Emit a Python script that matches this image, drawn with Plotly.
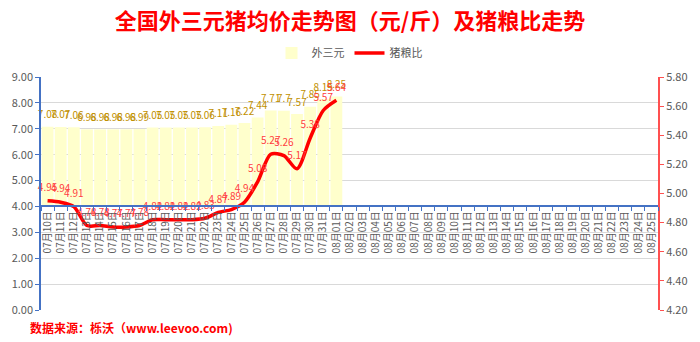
import plotly.graph_objects as go

# Categories: daily dates from 07-10 to 08-25
dates = [f"07月{d:02d}日" for d in range(10, 32)] + [f"08月{d:02d}日" for d in range(1, 26)]

# 外三元 average price (元/斤), available through 08-01
price = [7.08, 7.07, 7.06, 6.98, 6.98, 6.98, 6.98, 6.99, 7.05, 7.05, 7.05, 7.05,
         7.06, 7.11, 7.16, 7.22, 7.44, 7.71, 7.70, 7.57, 7.85, 8.15, 8.25]
price_labels = ["7.08", "7.07", "7.06", "6.98", "6.98", "6.98", "6.98", "6.99", "7.05", "7.05",
                "7.05", "7.05", "7.06", "7.11", "7.16", "7.22", "7.44", "7.71", "7.7", "7.57",
                "7.85", "8.15", "8.25"]

# 猪粮比 (hog-to-grain ratio)
ratio = [4.95, 4.94, 4.91, 4.78, 4.78, 4.77, 4.77, 4.78, 4.82, 4.82, 4.82, 4.82,
         4.83, 4.87, 4.89, 4.94, 5.08, 5.27, 5.26, 5.17, 5.38, 5.57, 5.64]

BAR_BASE = 4.0  # category axis crosses the price axis at 4.00

FONT = "Noto Sans CJK SC, Noto Sans, sans-serif"
GRAY = "#595959"
BLUE = "#4472C4"
CLEAR = "rgba(0,0,0,0)"

fig = go.Figure()

fig.add_trace(go.Bar(
    name="外三元",
    x=dates[:len(price)],
    y=[p - BAR_BASE for p in price],
    base=BAR_BASE,
    marker=dict(color="#FFFFCC", line=dict(width=0)),
    yaxis="y",
    hoverinfo="skip",
))

# price labels sitting a little above each bar top
fig.add_trace(go.Scatter(
    x=dates[:len(price)],
    y=price,
    mode="markers+text",
    marker=dict(size=8, color=CLEAR),
    text=price_labels,
    textposition="top center",
    textfont=dict(family=FONT, size=10, color="#BF9000"),
    cliponaxis=False,
    showlegend=False,
    hoverinfo="skip",
    yaxis="y",
))

fig.add_trace(go.Scatter(
    name="猪粮比",
    x=dates[:len(ratio)],
    y=ratio,
    mode="lines+markers+text",
    line=dict(color="#FF0000", width=3.5, shape="spline", smoothing=0.8),
    marker=dict(size=10, color=CLEAR),
    text=[f"{r:.2f}" for r in ratio],
    textposition="top center",
    textfont=dict(family=FONT, size=10, color="#FF4040"),
    cliponaxis=False,
    yaxis="y2",
))

fig.update_layout(
    width=700, height=342,
    margin=dict(l=37, r=37, t=77, b=32),
    paper_bgcolor="white", plot_bgcolor="white",
    font=dict(family=FONT, color=GRAY, size=11),
    bargap=0.1,
    title=dict(
        text="<b>全国外三元猪均价走势图（元/斤）及猪粮比走势</b>",
        font=dict(family=FONT, size=22, color="#FF0000"),
        x=0.5, xanchor="center", y=1 - 21 / 342, yanchor="middle", yref="container",
    ),
    legend=dict(
        orientation="h", x=0.5, xanchor="center", y=1.103, yanchor="middle",
        font=dict(family=FONT, size=11, color=GRAY),
        itemwidth=30, tracegroupgap=0, bgcolor=CLEAR,
    ),
    showlegend=True,
    xaxis=dict(
        type="category", categoryorder="array", categoryarray=dates,
        range=[-0.5, len(dates) - 0.5],
        anchor="free", position=BAR_BASE / 9.0,
        showline=True, linecolor=BLUE, linewidth=1.5,
        ticks="outside", tickson="boundaries", ticklen=4, tickcolor=BLUE,
        tickangle=-90, tickfont=dict(family=FONT, size=10, color=GRAY),
        showgrid=False, zeroline=False,
    ),
    yaxis=dict(
        range=[0, 9], dtick=1, tickformat=".2f",
        showline=True, linecolor=BLUE, linewidth=1.5,
        ticks="outside", ticklen=4, tickcolor=BLUE,
        showgrid=True, gridcolor="#D9D9D9", gridwidth=1,
        zeroline=False, tickfont=dict(family=FONT, size=11, color=GRAY),
    ),
    yaxis2=dict(
        range=[4.2, 5.8], dtick=0.2, tickformat=".2f",
        overlaying="y", side="right",
        showline=True, linecolor="#FF5050", linewidth=2,
        ticks="outside", ticklen=4, tickcolor="#FF5050",
        showgrid=False, zeroline=False,
        tickfont=dict(family=FONT, size=11, color=GRAY),
    ),
    annotations=[dict(
        text="<b>数据来源：栎沃（www.leevoo.com)</b>",
        xref="paper", yref="paper", x=-13 / 626, y=-17 / 233,
        xanchor="left", yanchor="middle", showarrow=False,
        font=dict(family=FONT, size=12, color="#FF0000"),
    )],
)

fig.write_html("out.html")
